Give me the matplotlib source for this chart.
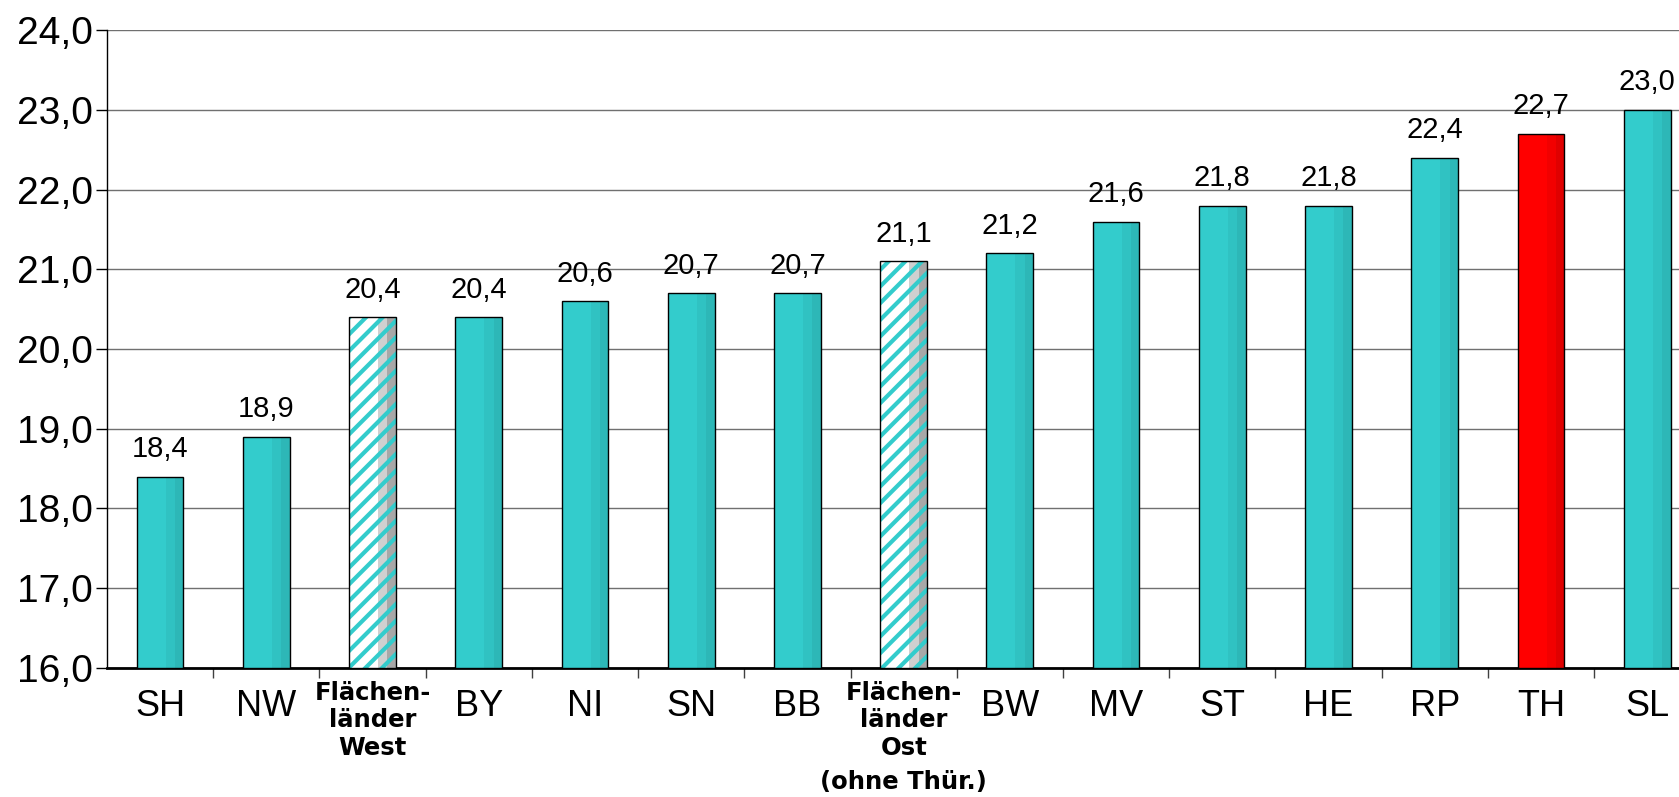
import matplotlib
matplotlib.use('Agg')
import matplotlib.pyplot as plt
from matplotlib.ticker import MultipleLocator, FuncFormatter

# Werte je Land
laender = ['SH', 'NW', 'Flächen-\nländer\nWest', 'BY', 'NI', 'SN', 'BB',
           'Flächen-\nländer\nOst', 'BW', 'MV', 'ST', 'HE', 'RP', 'TH', 'SL']
werte = [18.4, 18.9, 20.4, 20.4, 20.6, 20.7, 20.7, 21.1, 21.2, 21.6, 21.8, 21.8, 22.4, 22.7, 23.0]
art = ['n', 'n', 'h', 'n', 'n', 'n', 'n', 'h', 'n', 'n', 'n', 'n', 'n', 'th', 'n']

plt.rcParams['font.family'] = ['Liberation Sans', 'DejaVu Sans']
plt.rcParams['hatch.linewidth'] = 3.0
plt.rcParams['hatch.color'] = '#33CCCC'

fig = plt.figure(figsize=(16.79, 7.97), dpi=100)
ax = fig.add_axes([0.0637, 0.162, 0.949, 0.8])

x = list(range(len(laender)))
breite = 0.44
basis = 16.0

for i, (v, a) in enumerate(zip(werte, art)):
    h = v - basis
    links = i - breite / 2
    if a == 'h':
        # schraffierte Balken: weiss/grau mit tuerkiser Schraffur
        farben = ['white', '#D0D0D0', '#A8A8A8']
        muster = '//'
    elif a == 'th':
        farben = ['#FF0000', '#F20000', '#E00000']
        muster = None
    else:
        farben = ['#33CCCC', '#30C2C2', '#2DB7B7']
        muster = None
    ax.bar(links, h, width=breite * 0.62, bottom=basis, align='edge', color=farben[0],
           hatch=muster, linewidth=0, zorder=3)
    ax.bar(links + breite * 0.62, h, width=breite * 0.2, bottom=basis, align='edge', color=farben[1],
           hatch=muster, linewidth=0, zorder=3)
    ax.bar(links + breite * 0.82, h, width=breite * 0.18, bottom=basis, align='edge', color=farben[2],
           hatch=muster, linewidth=0, zorder=3)
    # Rahmen
    ax.bar(i, h, width=breite, bottom=basis, fill=False, edgecolor='black', linewidth=1.0, zorder=4)
    ax.text(i, v + 0.17, f'{v:.1f}'.replace('.', ','), ha='center', va='bottom', fontsize=21, zorder=5)

ax.set_xlim(-0.5, len(laender) - 0.5)
ax.set_ylim(16, 24)
ax.yaxis.set_major_locator(MultipleLocator(1))
ax.yaxis.set_major_formatter(FuncFormatter(lambda v, p: f'{v:.1f}'.replace('.', ',')))
ax.grid(axis='y', color='#707070', linewidth=1.0, zorder=1)
ax.set_axisbelow(True)

ax.set_xticks(x)
ax.set_xticklabels([])
ax.tick_params(axis='x', length=0)
ax.set_xticks([i + 0.5 for i in x[:-1]], minor=True)
ax.tick_params(axis='x', which='minor', length=7, width=1, color='#404040')
for i, lab in enumerate(laender):
    if '\n' in lab:
        ax.text(i, 15.84, lab, ha='center', va='top', fontsize=17.5, fontweight='bold',
                family='DejaVu Sans', linespacing=1.2)
    else:
        ax.text(i, 15.74, lab, ha='center', va='top', fontsize=26)
ax.text(7, 14.72, '(ohne Thür.)', ha='center', va='top', fontsize=17.5, fontweight='bold',
        family='DejaVu Sans')

ax.tick_params(axis='y', labelsize=28, length=8, width=1, pad=2)
ax.spines['top'].set_visible(False)
ax.spines['right'].set_visible(False)
ax.spines['left'].set_linewidth(1.0)
ax.spines['bottom'].set_linewidth(2.0)

fig.savefig('out.png', dpi=100)
plt.close('all')
